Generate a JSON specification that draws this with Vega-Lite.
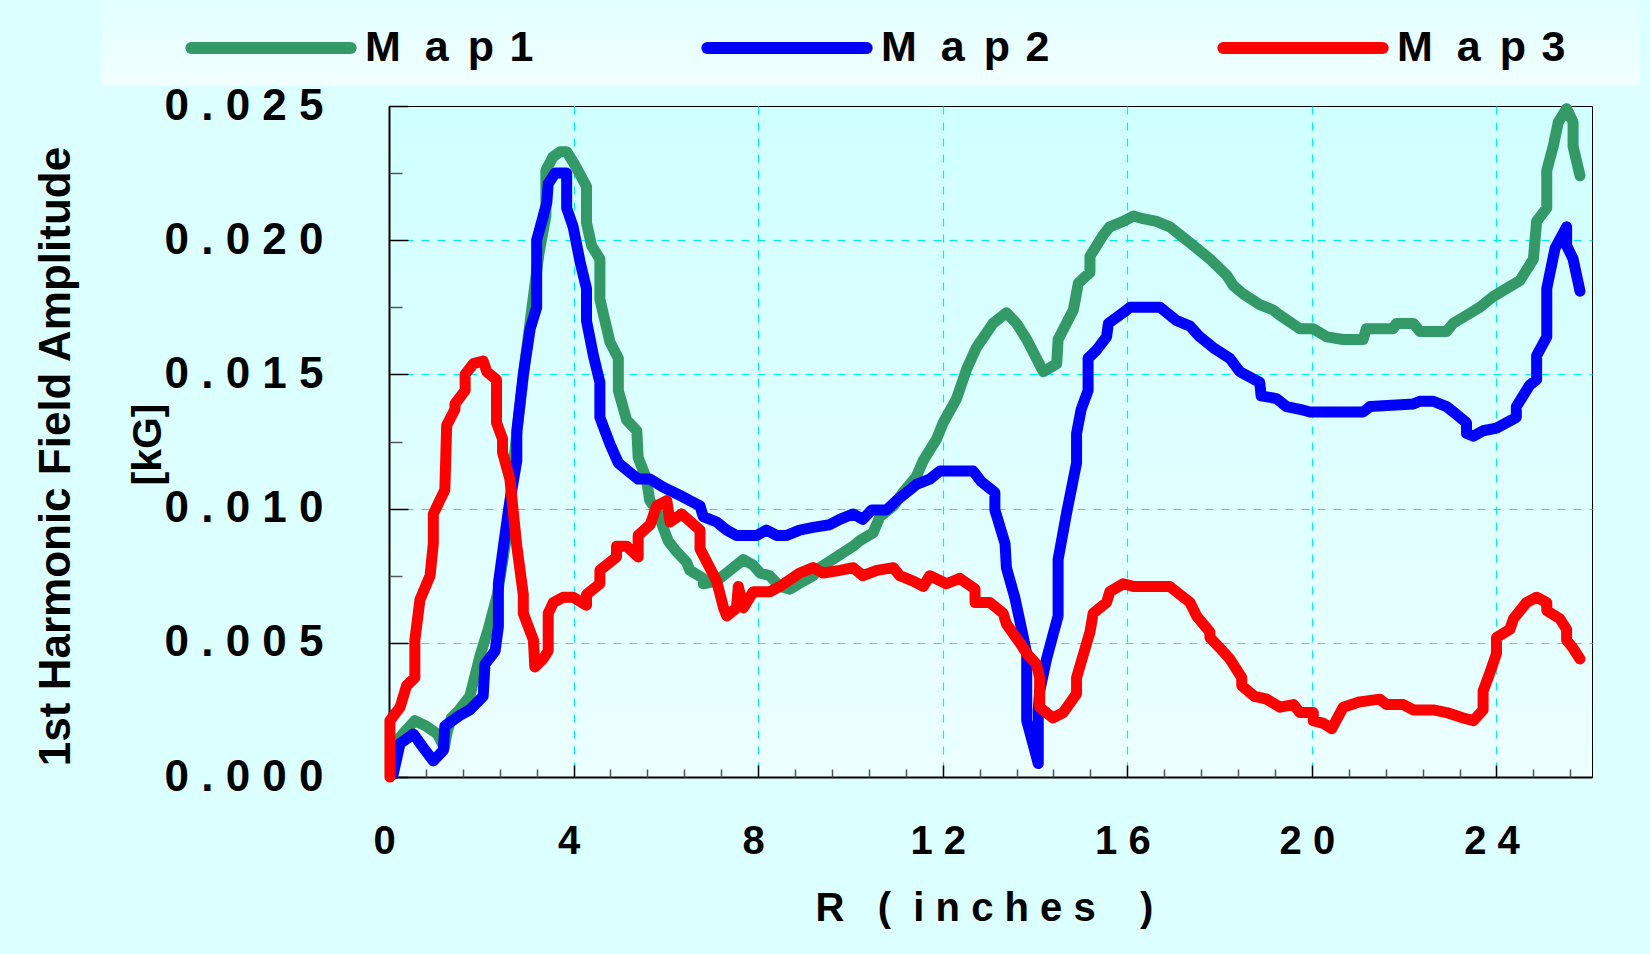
{
  "$schema": "https://vega.github.io/schema/vega-lite/v6.json",
  "width": 1203,
  "height": 671,
  "autosize": {"type": "none"},
  "padding": {"left": 389, "top": 106, "right": 58, "bottom": 177},
  "background": "#dcffff",
  "view": {
    "fill": {"gradient": "linear", "x1": 0, "y1": 0, "x2": 0, "y2": 1, "stops": [{"offset": 0, "color": "#d0ffff"}, {"offset": 1, "color": "#ecffff"}]},
    "stroke": "black",
    "strokeWidth": 1
  },
  "config": {"font": "Liberation Sans"},
  "datasets": {
    "pts": [
      {"s":"Map 1","x":0.05,"y":0.0006},{"s":"Map 1","x":0.2,"y":0.0014},{"s":"Map 1","x":0.35,"y":0.0017},{"s":"Map 1","x":0.56,"y":0.0021},{"s":"Map 1","x":0.8,"y":0.0019},{"s":"Map 1","x":1.05,"y":0.0016},{"s":"Map 1","x":1.2,"y":0.0011},{"s":"Map 1","x":1.25,"y":0.0016},{"s":"Map 1","x":1.35,"y":0.0022},{"s":"Map 1","x":1.5,"y":0.00245},{"s":"Map 1","x":1.75,"y":0.003},{"s":"Map 1","x":1.97,"y":0.0045},{"s":"Map 1","x":2.15,"y":0.0055},{"s":"Map 1","x":2.35,"y":0.0068},{"s":"Map 1","x":2.55,"y":0.009},{"s":"Map 1","x":2.75,"y":0.0125},{"s":"Map 1","x":2.95,"y":0.0155},{"s":"Map 1","x":3.1,"y":0.0175},{"s":"Map 1","x":3.25,"y":0.0195},{"s":"Map 1","x":3.4,"y":0.0209},{"s":"Map 1","x":3.4,"y":0.0226},{"s":"Map 1","x":3.55,"y":0.0231},{"s":"Map 1","x":3.71,"y":0.0233},{"s":"Map 1","x":3.85,"y":0.0233},{"s":"Map 1","x":4.03,"y":0.0228},{"s":"Map 1","x":4.28,"y":0.022},{"s":"Map 1","x":4.28,"y":0.02065},{"s":"Map 1","x":4.39,"y":0.0198},{"s":"Map 1","x":4.57,"y":0.0193},{"s":"Map 1","x":4.57,"y":0.0178},{"s":"Map 1","x":4.79,"y":0.0162},{"s":"Map 1","x":4.97,"y":0.0156},{"s":"Map 1","x":4.97,"y":0.0144},{"s":"Map 1","x":5.15,"y":0.0133},{"s":"Map 1","x":5.37,"y":0.0129},{"s":"Map 1","x":5.4,"y":0.0119},{"s":"Map 1","x":5.58,"y":0.0111},{"s":"Map 1","x":5.65,"y":0.0103},{"s":"Map 1","x":5.8,"y":0.00995},{"s":"Map 1","x":6.05,"y":0.0088},{"s":"Map 1","x":6.23,"y":0.0084},{"s":"Map 1","x":6.45,"y":0.008},{"s":"Map 1","x":6.52,"y":0.0077},{"s":"Map 1","x":6.81,"y":0.0074},{"s":"Map 1","x":6.81,"y":0.0072},{"s":"Map 1","x":7.1,"y":0.0073},{"s":"Map 1","x":7.39,"y":0.0077},{"s":"Map 1","x":7.68,"y":0.0081},{"s":"Map 1","x":7.89,"y":0.0079},{"s":"Map 1","x":8.04,"y":0.0076},{"s":"Map 1","x":8.25,"y":0.0075},{"s":"Map 1","x":8.47,"y":0.0071},{"s":"Map 1","x":8.69,"y":0.007},{"s":"Map 1","x":8.98,"y":0.0073},{"s":"Map 1","x":9.19,"y":0.0075},{"s":"Map 1","x":9.34,"y":0.0078},{"s":"Map 1","x":9.7,"y":0.0082},{"s":"Map 1","x":10.06,"y":0.0086},{"s":"Map 1","x":10.2,"y":0.0088},{"s":"Map 1","x":10.49,"y":0.0091},{"s":"Map 1","x":10.64,"y":0.0097},{"s":"Map 1","x":10.93,"y":0.0101},{"s":"Map 1","x":11.14,"y":0.0106},{"s":"Map 1","x":11.43,"y":0.0112},{"s":"Map 1","x":11.58,"y":0.0118},{"s":"Map 1","x":11.87,"y":0.0126},{"s":"Map 1","x":12.01,"y":0.0132},{"s":"Map 1","x":12.3,"y":0.0141},{"s":"Map 1","x":12.52,"y":0.0152},{"s":"Map 1","x":12.73,"y":0.016},{"s":"Map 1","x":13.09,"y":0.0169},{"s":"Map 1","x":13.38,"y":0.0173},{"s":"Map 1","x":13.6,"y":0.0169},{"s":"Map 1","x":13.82,"y":0.0163},{"s":"Map 1","x":14.03,"y":0.0156},{"s":"Map 1","x":14.18,"y":0.0151},{"s":"Map 1","x":14.47,"y":0.0154},{"s":"Map 1","x":14.5,"y":0.0163},{"s":"Map 1","x":14.83,"y":0.0174},{"s":"Map 1","x":14.94,"y":0.0184},{"s":"Map 1","x":15.19,"y":0.0188},{"s":"Map 1","x":15.19,"y":0.0194},{"s":"Map 1","x":15.48,"y":0.0202},{"s":"Map 1","x":15.62,"y":0.0205},{"s":"Map 1","x":15.91,"y":0.0207},{"s":"Map 1","x":16.13,"y":0.0209},{"s":"Map 1","x":16.34,"y":0.0208},{"s":"Map 1","x":16.63,"y":0.0207},{"s":"Map 1","x":16.92,"y":0.0205},{"s":"Map 1","x":17.14,"y":0.0202},{"s":"Map 1","x":17.43,"y":0.0198},{"s":"Map 1","x":17.79,"y":0.0193},{"s":"Map 1","x":18.15,"y":0.0187},{"s":"Map 1","x":18.3,"y":0.0183},{"s":"Map 1","x":18.51,"y":0.018},{"s":"Map 1","x":18.87,"y":0.0176},{"s":"Map 1","x":19.16,"y":0.0174},{"s":"Map 1","x":19.31,"y":0.0172},{"s":"Map 1","x":19.74,"y":0.0167},{"s":"Map 1","x":20.03,"y":0.0167},{"s":"Map 1","x":20.32,"y":0.0164},{"s":"Map 1","x":20.68,"y":0.0163},{"s":"Map 1","x":21.11,"y":0.0163},{"s":"Map 1","x":21.18,"y":0.0167},{"s":"Map 1","x":21.76,"y":0.0167},{"s":"Map 1","x":21.83,"y":0.0169},{"s":"Map 1","x":22.2,"y":0.0169},{"s":"Map 1","x":22.34,"y":0.0166},{"s":"Map 1","x":22.92,"y":0.0166},{"s":"Map 1","x":23.06,"y":0.0169},{"s":"Map 1","x":23.35,"y":0.0172},{"s":"Map 1","x":23.64,"y":0.0175},{"s":"Map 1","x":23.93,"y":0.0179},{"s":"Map 1","x":24.22,"y":0.0182},{"s":"Map 1","x":24.51,"y":0.0185},{"s":"Map 1","x":24.8,"y":0.0193},{"s":"Map 1","x":24.87,"y":0.0207},{"s":"Map 1","x":25.09,"y":0.0212},{"s":"Map 1","x":25.09,"y":0.0226},{"s":"Map 1","x":25.23,"y":0.0235},{"s":"Map 1","x":25.34,"y":0.0244},{"s":"Map 1","x":25.52,"y":0.0249},{"s":"Map 1","x":25.66,"y":0.0244},{"s":"Map 1","x":25.66,"y":0.0235},{"s":"Map 1","x":25.81,"y":0.0224},

      {"s":"Map 2","x":0.09,"y":0.0001},{"s":"Map 2","x":0.24,"y":0.00125},{"s":"Map 2","x":0.53,"y":0.0016},{"s":"Map 2","x":0.74,"y":0.0011},{"s":"Map 2","x":0.96,"y":0.0006},{"s":"Map 2","x":1.18,"y":0.001},{"s":"Map 2","x":1.21,"y":0.0019},{"s":"Map 2","x":1.54,"y":0.0023},{"s":"Map 2","x":1.75,"y":0.0025},{"s":"Map 2","x":2.04,"y":0.003},{"s":"Map 2","x":2.08,"y":0.0042},{"s":"Map 2","x":2.3,"y":0.0047},{"s":"Map 2","x":2.37,"y":0.0056},{"s":"Map 2","x":2.37,"y":0.0072},{"s":"Map 2","x":2.48,"y":0.0086},{"s":"Map 2","x":2.59,"y":0.00995},{"s":"Map 2","x":2.77,"y":0.0118},{"s":"Map 2","x":2.77,"y":0.0129},{"s":"Map 2","x":2.91,"y":0.015},{"s":"Map 2","x":3.06,"y":0.0167},{"s":"Map 2","x":3.2,"y":0.0175},{"s":"Map 2","x":3.2,"y":0.02},{"s":"Map 2","x":3.42,"y":0.0214},{"s":"Map 2","x":3.45,"y":0.0221},{"s":"Map 2","x":3.6,"y":0.0225},{"s":"Map 2","x":3.85,"y":0.0225},{"s":"Map 2","x":3.85,"y":0.0212},{"s":"Map 2","x":3.99,"y":0.0205},{"s":"Map 2","x":4.14,"y":0.0192},{"s":"Map 2","x":4.28,"y":0.0182},{"s":"Map 2","x":4.28,"y":0.017},{"s":"Map 2","x":4.43,"y":0.0157},{"s":"Map 2","x":4.57,"y":0.0147},{"s":"Map 2","x":4.57,"y":0.0134},{"s":"Map 2","x":4.79,"y":0.0124},{"s":"Map 2","x":4.97,"y":0.0117},{"s":"Map 2","x":5.18,"y":0.0114},{"s":"Map 2","x":5.4,"y":0.0111},{"s":"Map 2","x":5.66,"y":0.0111},{"s":"Map 2","x":5.94,"y":0.0108},{"s":"Map 2","x":6.3,"y":0.0105},{"s":"Map 2","x":6.52,"y":0.0103},{"s":"Map 2","x":6.74,"y":0.0101},{"s":"Map 2","x":6.81,"y":0.0097},{"s":"Map 2","x":7.1,"y":0.0095},{"s":"Map 2","x":7.32,"y":0.0092},{"s":"Map 2","x":7.53,"y":0.009},{"s":"Map 2","x":7.97,"y":0.009},{"s":"Map 2","x":8.18,"y":0.0092},{"s":"Map 2","x":8.4,"y":0.009},{"s":"Map 2","x":8.62,"y":0.009},{"s":"Map 2","x":8.9,"y":0.0092},{"s":"Map 2","x":9.19,"y":0.0093},{"s":"Map 2","x":9.55,"y":0.0094},{"s":"Map 2","x":9.77,"y":0.0096},{"s":"Map 2","x":10.06,"y":0.0098},{"s":"Map 2","x":10.27,"y":0.0096},{"s":"Map 2","x":10.46,"y":0.00995},{"s":"Map 2","x":10.78,"y":0.00995},{"s":"Map 2","x":11.0,"y":0.0103},{"s":"Map 2","x":11.43,"y":0.0109},{"s":"Map 2","x":11.72,"y":0.0111},{"s":"Map 2","x":11.94,"y":0.0114},{"s":"Map 2","x":12.66,"y":0.0114},{"s":"Map 2","x":12.84,"y":0.011},{"s":"Map 2","x":13.13,"y":0.0106},{"s":"Map 2","x":13.13,"y":0.00995},{"s":"Map 2","x":13.35,"y":0.0087},{"s":"Map 2","x":13.38,"y":0.0078},{"s":"Map 2","x":13.56,"y":0.0067},{"s":"Map 2","x":13.71,"y":0.0055},{"s":"Map 2","x":13.82,"y":0.0046},{"s":"Map 2","x":13.82,"y":0.0021},{"s":"Map 2","x":14.07,"y":0.0005},{"s":"Map 2","x":14.07,"y":0.0025},{"s":"Map 2","x":14.1,"y":0.0032},{"s":"Map 2","x":14.25,"y":0.0044},{"s":"Map 2","x":14.5,"y":0.006},{"s":"Map 2","x":14.5,"y":0.0081},{"s":"Map 2","x":14.68,"y":0.0098},{"s":"Map 2","x":14.9,"y":0.0117},{"s":"Map 2","x":14.9,"y":0.0128},{"s":"Map 2","x":15.0,"y":0.0137},{"s":"Map 2","x":15.15,"y":0.0144},{"s":"Map 2","x":15.15,"y":0.0156},{"s":"Map 2","x":15.33,"y":0.0159},{"s":"Map 2","x":15.55,"y":0.0164},{"s":"Map 2","x":15.59,"y":0.0169},{"s":"Map 2","x":15.91,"y":0.0173},{"s":"Map 2","x":16.06,"y":0.0175},{"s":"Map 2","x":16.71,"y":0.0175},{"s":"Map 2","x":17.07,"y":0.017},{"s":"Map 2","x":17.36,"y":0.0168},{"s":"Map 2","x":17.57,"y":0.0164},{"s":"Map 2","x":17.86,"y":0.016},{"s":"Map 2","x":18.22,"y":0.0156},{"s":"Map 2","x":18.44,"y":0.0151},{"s":"Map 2","x":18.87,"y":0.0147},{"s":"Map 2","x":18.9,"y":0.0142},{"s":"Map 2","x":19.23,"y":0.0141},{"s":"Map 2","x":19.45,"y":0.0138},{"s":"Map 2","x":19.74,"y":0.0137},{"s":"Map 2","x":19.96,"y":0.0136},{"s":"Map 2","x":21.11,"y":0.0136},{"s":"Map 2","x":21.26,"y":0.0138},{"s":"Map 2","x":22.2,"y":0.0139},{"s":"Map 2","x":22.34,"y":0.014},{"s":"Map 2","x":22.63,"y":0.014},{"s":"Map 2","x":22.92,"y":0.0138},{"s":"Map 2","x":23.14,"y":0.0135},{"s":"Map 2","x":23.35,"y":0.0132},{"s":"Map 2","x":23.35,"y":0.0128},{"s":"Map 2","x":23.5,"y":0.0127},{"s":"Map 2","x":23.71,"y":0.0129},{"s":"Map 2","x":24.0,"y":0.013},{"s":"Map 2","x":24.43,"y":0.0134},{"s":"Map 2","x":24.43,"y":0.0138},{"s":"Map 2","x":24.72,"y":0.0146},{"s":"Map 2","x":24.87,"y":0.0148},{"s":"Map 2","x":24.87,"y":0.0157},{"s":"Map 2","x":25.09,"y":0.0164},{"s":"Map 2","x":25.09,"y":0.0182},{"s":"Map 2","x":25.27,"y":0.0197},{"s":"Map 2","x":25.52,"y":0.0205},{"s":"Map 2","x":25.52,"y":0.0198},{"s":"Map 2","x":25.66,"y":0.0193},{"s":"Map 2","x":25.81,"y":0.0181},

      {"s":"Map 3","x":0.02,"y":0.0},{"s":"Map 3","x":0.02,"y":0.0021},{"s":"Map 3","x":0.24,"y":0.0026},{"s":"Map 3","x":0.38,"y":0.0034},{"s":"Map 3","x":0.56,"y":0.0037},{"s":"Map 3","x":0.56,"y":0.0051},{"s":"Map 3","x":0.67,"y":0.0066},{"s":"Map 3","x":0.89,"y":0.0075},{"s":"Map 3","x":0.96,"y":0.0087},{"s":"Map 3","x":0.96,"y":0.0098},{"s":"Map 3","x":1.21,"y":0.0107},{"s":"Map 3","x":1.25,"y":0.0131},{"s":"Map 3","x":1.43,"y":0.0137},{"s":"Map 3","x":1.43,"y":0.0139},{"s":"Map 3","x":1.65,"y":0.0144},{"s":"Map 3","x":1.65,"y":0.015},{"s":"Map 3","x":1.83,"y":0.0154},{"s":"Map 3","x":2.04,"y":0.0155},{"s":"Map 3","x":2.12,"y":0.0151},{"s":"Map 3","x":2.33,"y":0.0148},{"s":"Map 3","x":2.33,"y":0.0132},{"s":"Map 3","x":2.46,"y":0.0126},{"s":"Map 3","x":2.46,"y":0.0121},{"s":"Map 3","x":2.62,"y":0.0111},{"s":"Map 3","x":2.77,"y":0.0086},{"s":"Map 3","x":2.91,"y":0.0068},{"s":"Map 3","x":2.91,"y":0.0061},{"s":"Map 3","x":3.13,"y":0.0051},{"s":"Map 3","x":3.16,"y":0.0041},{"s":"Map 3","x":3.34,"y":0.0044},{"s":"Map 3","x":3.45,"y":0.0047},{"s":"Map 3","x":3.45,"y":0.0061},{"s":"Map 3","x":3.56,"y":0.0065},{"s":"Map 3","x":3.78,"y":0.0067},{"s":"Map 3","x":3.99,"y":0.0067},{"s":"Map 3","x":4.28,"y":0.0064},{"s":"Map 3","x":4.28,"y":0.0068},{"s":"Map 3","x":4.57,"y":0.0072},{"s":"Map 3","x":4.57,"y":0.0077},{"s":"Map 3","x":4.93,"y":0.0082},{"s":"Map 3","x":4.93,"y":0.0086},{"s":"Map 3","x":5.15,"y":0.0086},{"s":"Map 3","x":5.4,"y":0.0082},{"s":"Map 3","x":5.4,"y":0.009},{"s":"Map 3","x":5.66,"y":0.0094},{"s":"Map 3","x":5.8,"y":0.0101},{"s":"Map 3","x":6.02,"y":0.0103},{"s":"Map 3","x":6.09,"y":0.0095},{"s":"Map 3","x":6.34,"y":0.0098},{"s":"Map 3","x":6.74,"y":0.0092},{"s":"Map 3","x":6.74,"y":0.0085},{"s":"Map 3","x":7.1,"y":0.0073},{"s":"Map 3","x":7.25,"y":0.0063},{"s":"Map 3","x":7.32,"y":0.006},{"s":"Map 3","x":7.53,"y":0.0063},{"s":"Map 3","x":7.57,"y":0.0071},{"s":"Map 3","x":7.68,"y":0.0063},{"s":"Map 3","x":7.89,"y":0.0069},{"s":"Map 3","x":8.25,"y":0.0069},{"s":"Map 3","x":8.47,"y":0.0071},{"s":"Map 3","x":8.9,"y":0.0076},{"s":"Map 3","x":9.19,"y":0.0078},{"s":"Map 3","x":9.41,"y":0.0076},{"s":"Map 3","x":9.77,"y":0.0077},{"s":"Map 3","x":10.06,"y":0.0078},{"s":"Map 3","x":10.27,"y":0.0075},{"s":"Map 3","x":10.57,"y":0.0077},{"s":"Map 3","x":10.93,"y":0.0078},{"s":"Map 3","x":11.07,"y":0.0075},{"s":"Map 3","x":11.36,"y":0.0073},{"s":"Map 3","x":11.58,"y":0.0071},{"s":"Map 3","x":11.72,"y":0.0075},{"s":"Map 3","x":12.08,"y":0.0072},{"s":"Map 3","x":12.37,"y":0.0074},{"s":"Map 3","x":12.7,"y":0.007},{"s":"Map 3","x":12.7,"y":0.0065},{"s":"Map 3","x":13.02,"y":0.0065},{"s":"Map 3","x":13.31,"y":0.0061},{"s":"Map 3","x":13.38,"y":0.0057},{"s":"Map 3","x":13.67,"y":0.005},{"s":"Map 3","x":13.82,"y":0.0046},{"s":"Map 3","x":14.03,"y":0.0042},{"s":"Map 3","x":14.1,"y":0.0037},{"s":"Map 3","x":14.1,"y":0.0026},{"s":"Map 3","x":14.39,"y":0.0022},{"s":"Map 3","x":14.61,"y":0.0024},{"s":"Map 3","x":14.9,"y":0.0031},{"s":"Map 3","x":14.9,"y":0.0037},{"s":"Map 3","x":15.19,"y":0.0054},{"s":"Map 3","x":15.26,"y":0.0061},{"s":"Map 3","x":15.55,"y":0.0065},{"s":"Map 3","x":15.62,"y":0.0069},{"s":"Map 3","x":15.91,"y":0.0072},{"s":"Map 3","x":16.13,"y":0.0071},{"s":"Map 3","x":16.92,"y":0.0071},{"s":"Map 3","x":17.14,"y":0.0068},{"s":"Map 3","x":17.36,"y":0.0065},{"s":"Map 3","x":17.5,"y":0.006},{"s":"Map 3","x":17.79,"y":0.0054},{"s":"Map 3","x":17.79,"y":0.0052},{"s":"Map 3","x":18.01,"y":0.0048},{"s":"Map 3","x":18.22,"y":0.0044},{"s":"Map 3","x":18.48,"y":0.0037},{"s":"Map 3","x":18.48,"y":0.0034},{"s":"Map 3","x":18.76,"y":0.003},{"s":"Map 3","x":19.02,"y":0.0029},{"s":"Map 3","x":19.31,"y":0.0026},{"s":"Map 3","x":19.6,"y":0.0027},{"s":"Map 3","x":19.74,"y":0.0024},{"s":"Map 3","x":20.03,"y":0.0024},{"s":"Map 3","x":20.03,"y":0.0021},{"s":"Map 3","x":20.25,"y":0.002},{"s":"Map 3","x":20.43,"y":0.0018},{"s":"Map 3","x":20.68,"y":0.0026},{"s":"Map 3","x":21.04,"y":0.0028},{"s":"Map 3","x":21.47,"y":0.0029},{"s":"Map 3","x":21.62,"y":0.0027},{"s":"Map 3","x":21.98,"y":0.0027},{"s":"Map 3","x":22.2,"y":0.0025},{"s":"Map 3","x":22.63,"y":0.0025},{"s":"Map 3","x":22.92,"y":0.0024},{"s":"Map 3","x":23.28,"y":0.0022},{"s":"Map 3","x":23.5,"y":0.0021},{"s":"Map 3","x":23.71,"y":0.0025},{"s":"Map 3","x":23.71,"y":0.0032},{"s":"Map 3","x":23.86,"y":0.0039},{"s":"Map 3","x":24.0,"y":0.0046},{"s":"Map 3","x":24.0,"y":0.0052},{"s":"Map 3","x":24.29,"y":0.0055},{"s":"Map 3","x":24.37,"y":0.0059},{"s":"Map 3","x":24.65,"y":0.0065},{"s":"Map 3","x":24.87,"y":0.0067},{"s":"Map 3","x":25.09,"y":0.0065},{"s":"Map 3","x":25.09,"y":0.0062},{"s":"Map 3","x":25.37,"y":0.0059},{"s":"Map 3","x":25.52,"y":0.0055},{"s":"Map 3","x":25.52,"y":0.0051},{"s":"Map 3","x":25.66,"y":0.0048},{"s":"Map 3","x":25.81,"y":0.0044}
    ]
  },
  "data": {"name": "pts"},
  "resolve": {"axis": {"x": "independent", "y": "independent"}},
  "layer": [
    {
      "mark": {"type": "line", "strokeWidth": 11, "strokeCap": "round", "strokeJoin": "round"},
      "encoding": {
        "x": {
          "field": "x", "type": "quantitative",
          "scale": {"domain": [0, 26.07], "nice": false, "zero": false},
          "axis": {
            "orient": "bottom",
            "values": [0, 4, 8, 12, 16, 20, 24],
            "labelExpr": "join(split(datum.label, ''), ' ')",
            "labelFont": "Liberation Sans", "labelFontSize": 40, "labelFontWeight": "bold", "labelColor": "black",
            "labelBaseline": "alphabetic", "labelPadding": 88, "labelOffset": -5, "labelFlush": false, "labelOverlap": false,
            "tickSize": -12, "tickColor": "black", "tickWidth": 1.5,
            "domainColor": "black", "domainWidth": 2,
            "grid": true, "gridColor": "#00eeee", "gridDash": [8, 8], "gridWidth": 1.2,
            "gridOpacity": {"condition": {"test": "datum.value == 0", "value": 0}, "value": 1},
            "title": "R\u00a0\u00a0\u00a0(\u00a0\u00a0i\u00a0n\u00a0c\u00a0h\u00a0e\u00a0s\u00a0\u00a0\u00a0\u00a0)",
            "titleFont": "Liberation Sans", "titleFontSize": 40, "titleFontWeight": "bold", "titleColor": "black",
            "titleX": 595, "titleY": 143, "titleAlign": "center", "titleBaseline": "alphabetic"
          }
        },
        "y": {
          "field": "y", "type": "quantitative",
          "scale": {"domain": [0, 0.025], "nice": false, "zero": false},
          "axis": {
            "orient": "left",
            "values": [0, 0.005, 0.01, 0.015, 0.02, 0.025],
            "format": ".3f",
            "labelExpr": "join(split(datum.label, ''), ' ')",
            "labelFont": "Liberation Sans", "labelFontSize": 44, "labelFontWeight": "bold", "labelColor": "black",
            "labelBaseline": "middle", "labelPadding": 85, "labelOverlap": false,
            "tickSize": -19, "tickColor": "black", "tickWidth": 1.5,
            "domainColor": "black", "domainWidth": 2,
            "grid": true, "gridColor": "#00eeee", "gridDash": [8, 8], "gridWidth": 1.2,
            "gridOpacity": {"condition": {"test": "datum.value == 0 || datum.value >= 0.025", "value": 0}, "value": 1},
            "title": "1st Harmonic Field Amplitude",
            "titleFont": "Liberation Sans", "titleFontSize": 44, "titleFontWeight": "bold", "titleColor": "black",
            "titleAngle": 270, "titleX": -320, "titleY": 350, "titleAlign": "center", "titleBaseline": "alphabetic"
          }
        },
        "color": {
          "field": "s", "type": "nominal",
          "scale": {"domain": ["Map 1", "Map 2", "Map 3"], "range": ["#339966", "#0000ff", "#ff0000"]},
          "legend": {
            "orient": "none", "legendX": -287, "legendY": -158,
            "direction": "horizontal",
            "title": " ", "titleOrient": "left", "titleFontSize": 10, "titlePadding": 69,
            "padding": 14, "columnPadding": 149,
            "symbolType": "stroke", "symbolSize": 25410, "symbolStrokeWidth": 12,
            "labelOffset": 8, "labelFont": "Liberation Sans", "labelFontSize": 43, "labelFontWeight": "bold", "labelColor": "black", "labelLimit": 1000,
            "labelExpr": "'M\u00a0\u00a0a\u00a0\u2006p\u00a0\u200a' + slice(datum.label, 4) + (datum.label == 'Map 3' ? '\u00a0\u00a0\u00a0\u00a0\u00a0\u200b' : '')",
            "encode": {
              "symbols": {"update": {"strokeCap": {"value": "round"}}},
              "legend": {"update": {"fill": {"value": {"gradient": "linear", "x1": 0, "y1": 0, "x2": 0, "y2": 1, "stops": [{"offset": 0, "color": "#d8ffff"}, {"offset": 1, "color": "#f2ffff"}]}}}}
            }
          }
        },
        "order": {"value": null}
      }
    },
    {
      "mark": {"type": "point", "opacity": 0},
      "encoding": {
        "x": {
          "field": "x", "type": "quantitative",
          "axis": {
            "orient": "bottom",
            "values": [0.8, 1.6, 2.4, 3.2, 4.8, 5.6, 6.4, 7.2, 8.8, 9.6, 10.4, 11.2, 12.8, 13.6, 14.4, 15.2, 16.8, 17.6, 18.4, 19.2, 20.8, 21.6, 22.4, 23.2, 24.8, 25.6],
            "labels": false, "domain": false, "grid": false, "title": null,
            "tickSize": -8, "tickColor": "#555555", "tickWidth": 1.5
          }
        },
        "y": {
          "field": "y", "type": "quantitative",
          "axis": {
            "orient": "left",
            "values": [0.0025, 0.0075, 0.0125, 0.0175, 0.0225],
            "labels": false, "domain": false, "grid": false,
            "tickSize": -13, "tickColor": "#555555", "tickWidth": 1.5,
            "title": "[kG]",
            "titleFont": "Liberation Sans", "titleFontSize": 41, "titleFontWeight": "bold", "titleColor": "black",
            "titleAngle": 270, "titleX": -229, "titleY": 338, "titleAlign": "center", "titleBaseline": "alphabetic"
          }
        }
      }
    }
  ]
}
